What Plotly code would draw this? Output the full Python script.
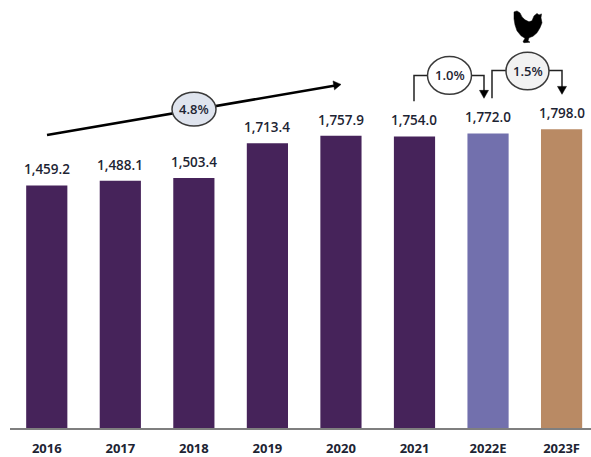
import plotly.graph_objects as go

categories = ["2016", "2017", "2018", "2019", "2020", "2021", "2022E", "2023F"]
values = [1459.2, 1488.1, 1503.4, 1713.4, 1757.9, 1754.0, 1772.0, 1798.0]
value_labels = ["1,459.2", "1,488.1", "1,503.4", "1,713.4", "1,757.9", "1,754.0", "1,772.0", "1,798.0"]
bar_colors = ["#46235a"] * 6 + ["#7270ad", "#b98a64"]

W, H = 591, 457
L, T, R, B = 10, 0, 591, 431
FONT = "Open Sans"
TXT = "#1d2433"


def px(x):
    return (x - L) / (R - L)


def py(y):
    return (B - y) / (B - T)


fig = go.Figure(go.Bar(x=categories, y=values, marker=dict(color=bar_colors, line_width=0), width=0.56,
                       hoverinfo="skip"))

shapes = []
annotations = []

for i, (v, t) in enumerate(zip(values, value_labels)):
    annotations.append(dict(x=i, y=v, xref="x", yref="y", text=t, showarrow=False, yanchor="bottom",
                            xanchor="center", yshift=5,
                            font=dict(family=FONT, size=13.5, color=TXT, weight=600)))


def line(pts, width=1.5, color="#222222"):
    d = "M" + " L".join(f"{px(x):.5f},{py(y):.5f}" for x, y in pts)
    shapes.append(dict(type="path", path=d, xref="paper", yref="paper", line=dict(color=color, width=width),
                       fillcolor="rgba(0,0,0,0)", layer="above"))


def poly(pts, color="#000000"):
    d = "M" + " L".join(f"{px(x):.5f},{py(y):.5f}" for x, y in pts) + " Z"
    shapes.append(dict(type="path", path=d, xref="paper", yref="paper", line=dict(color=color, width=0.5),
                       fillcolor=color, layer="above"))


def bubble(cx, cy, rx, ry, fill, text):
    shapes.append(dict(type="circle", xref="paper", yref="paper", x0=px(cx - rx), x1=px(cx + rx),
                       y0=py(cy + ry), y1=py(cy - ry), fillcolor=fill, line=dict(color="#3a3a3a", width=1.5),
                       layer="above"))
    annotations.append(dict(x=px(cx), y=py(cy), xref="paper", yref="paper", text=text, showarrow=False,
                            xanchor="center", yanchor="middle",
                            font=dict(family=FONT, size=13, color=TXT, weight=600)))


# CAGR arrow
line([(47, 136), (334, 86.3)], width=2.5, color="#000000")
poly([(341, 85), (333, 81.5), (334.5, 90.5)])
bubble(194, 110, 22, 17, "#dfe4ee", "4.8%")

# 1.0% connector
line([(414, 102), (414, 76), (428, 76)])
line([(471, 76), (484, 76), (484, 92)])
poly([(484, 99), (479.5, 91), (488.5, 91)])
bubble(449.5, 76, 22, 19, "#ffffff", "1.0%")

# 1.5% connector
line([(492, 99), (492, 71), (506, 71)])
line([(549, 71), (562, 71), (562, 88)])
poly([(562, 95), (557.5, 87), (566.5, 87)])
bubble(527.5, 71.5, 21.5, 19, "#f2f2f2", "1.5%")

# hen silhouette
poly([(514, 12), (517, 11), (520, 13), (522, 17), (525, 20), (529, 22), (532, 21), (534, 16), (537, 13.5),
      (539, 15), (541.5, 14), (541, 18), (542, 23), (540, 28), (537, 33), (533, 36.5), (529, 38), (528, 41),
      (530, 42.5), (524, 43), (523, 42), (525, 38.5), (521, 36), (517, 31), (515, 25), (514, 19)])

fig.update_layout(
    width=W, height=H, autosize=False,
    margin=dict(l=L, r=W - R, t=T, b=H - B),
    paper_bgcolor="white", plot_bgcolor="white",
    showlegend=False,
    shapes=shapes, annotations=annotations,
    xaxis=dict(type="category", range=[-0.5, 7.4], showline=True, linecolor="#7f7f7f", linewidth=2,
               ticks="", showgrid=False, zeroline=False, fixedrange=True, ticklabelstandoff=7,
               tickfont=dict(family=FONT, size=13, color=TXT, weight=700)),
    yaxis=dict(range=[0, 2575], visible=False, showgrid=False, zeroline=False, fixedrange=True),
)

fig.write_html("out.html", config=dict(displayModeBar=False),
               post_script="document.body.style.margin='0';document.body.style.overflow='hidden';")
